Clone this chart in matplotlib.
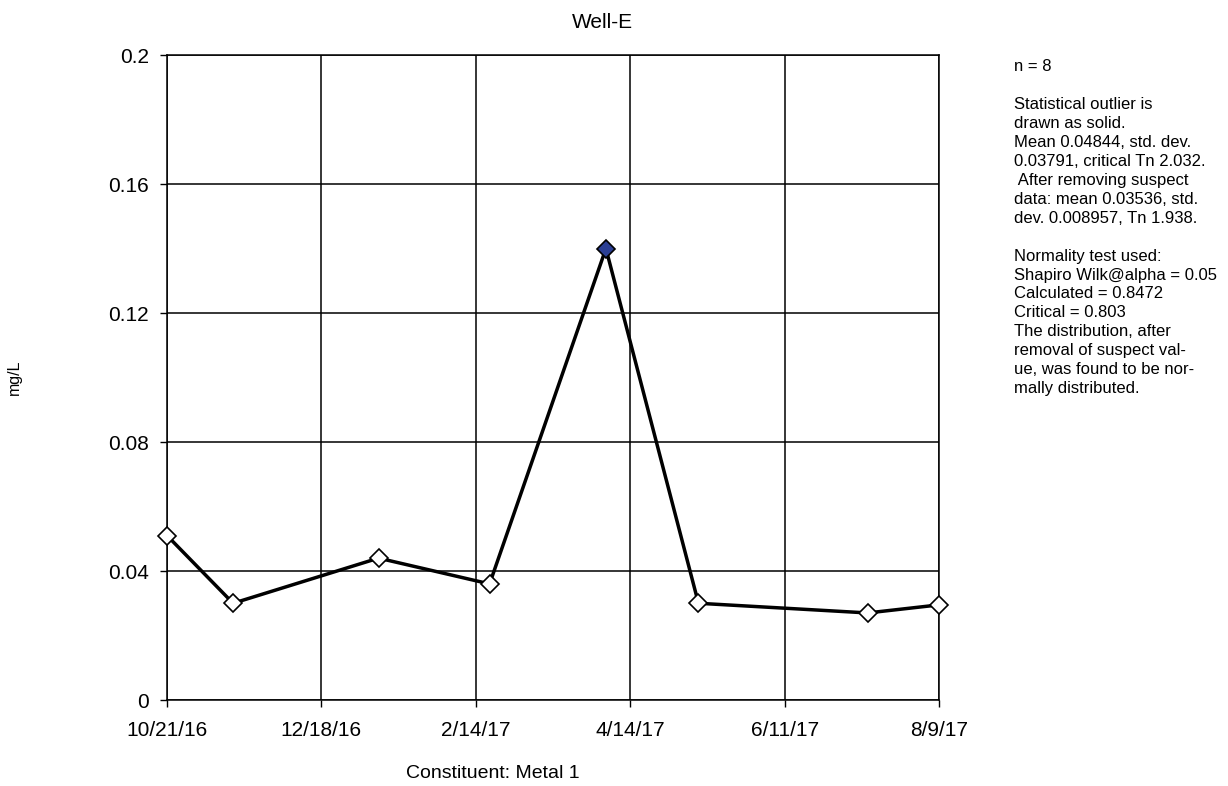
import datetime
import numpy as np
import matplotlib.pyplot as plt
import matplotlib.dates as mdates

#采样日期和浓度数据
dates = ["2016-10-21", "2016-11-15", "2017-01-09", "2017-02-20",
         "2017-04-05", "2017-05-10", "2017-07-13", "2017-08-09"]
values = [0.051, 0.030, 0.044, 0.036, 0.140, 0.030, 0.027, 0.0295]
outlier = [False, False, False, False, True, False, False, False]

x_ticklabels = ["10/21/16", "12/18/16", "2/14/17", "4/14/17", "6/11/17", "8/9/17"]
y_ticks = [0, 0.04, 0.08, 0.12, 0.16, 0.2]
y_ticklabels = ["0", "0.04", "0.08", "0.12", "0.16", "0.2"]

note_lines = [
    "n = 8",
    "",
    "Statistical outlier is",
    "drawn as solid.",
    "Mean 0.04844, std. dev.",
    "0.03791, critical Tn 2.032.",
    " After removing suspect",
    "data: mean 0.03536, std.",
    "dev. 0.008957, Tn 1.938.",
    "",
    "Normality test used:",
    "Shapiro Wilk@alpha = 0.05",
    "Calculated = 0.8472",
    "Critical = 0.803",
    "The distribution, after",
    "removal of suspect val-",
    "ue, was found to be nor-",
    "mally distributed.",
]

plt.rcParams['font.family'] = ['Liberation Sans', 'DejaVu Sans']

x = mdates.date2num([datetime.datetime.strptime(d, "%Y-%m-%d") for d in dates])

fig = plt.figure(figsize=(12.28, 7.86), dpi=100)
ax = fig.add_axes([0.136, 0.1094, 0.6287, 0.8206])

#折线和菱形点
ax.plot(x, values, color="black", lw=2.5, zorder=3)
for xi, yi, o in zip(x, values, outlier):
    ax.plot(xi, yi, marker="D", ms=9, mec="black", mew=1.2,
            mfc="#2b3f94" if o else "white", zorder=4, clip_on=False)

#坐标轴范围和刻度
ax.set_xlim(x[0], x[-1])
ax.set_ylim(0, 0.2)
ax.set_xticks(np.linspace(x[0], x[-1], len(x_ticklabels)))
ax.set_xticklabels(x_ticklabels, fontsize=15)
ax.set_yticks(y_ticks)
ax.set_yticklabels(y_ticklabels, fontsize=15)
ax.tick_params(axis="both", direction="out", length=5, width=1, color="black")
ax.tick_params(axis="y", pad=8)
ax.tick_params(axis="x", pad=10)
ax.grid(True, color="black", lw=1.1)
for s in ax.spines.values():
    s.set_linewidth(1.1)

#标题和标签
fig.text(0.491, 0.972, "Well-E", fontsize=15, ha="center", va="center")
fig.text(0.401, 0.016, "Constituent: Metal 1", fontsize=14, ha="center", va="center")
fig.text(0.012, 0.52, "mg/L", fontsize=11.5, rotation=90, ha="center", va="center")

#右侧统计说明
fig.text(0.826, 0.925, "\n".join(note_lines), fontsize=12, ha="left", va="top",
         linespacing=1.33)

plt.savefig("out.png", dpi=100)
